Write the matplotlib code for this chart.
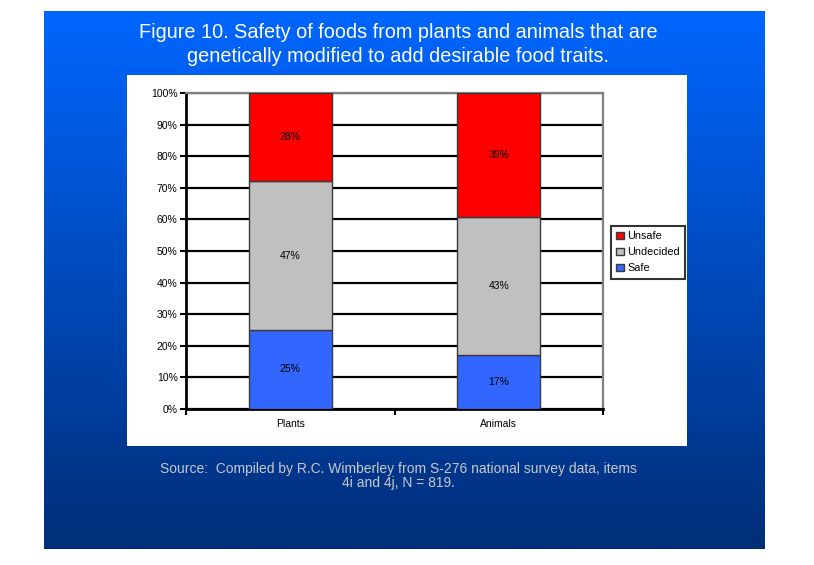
import matplotlib.pyplot as plt
import numpy as np
from matplotlib.patches import Rectangle

plt.rcParams['font.family'] = ['Liberation Sans', 'DejaVu Sans']

categories = ['Plants', 'Animals']
series = ['Safe', 'Undecided', 'Unsafe']
safe = [25, 17]
undecided = [47, 43]
unsafe = [28, 39]
colors = ['#3366ff', '#c0c0c0', '#ff0000']

W, H = 814, 565
fig = plt.figure(figsize=(W / 100, H / 100), dpi=100)
fig.patch.set_facecolor('white')

# blue gradient background panel
bg = fig.add_axes([44 / W, (H - 549) / H, 721 / W, 538 / H])
top = np.array([0x00, 0x66, 0xff]) / 255
bot = np.array([0x00, 0x2e, 0x78]) / 255
t = np.linspace(0, 1, 256)[:, None]
grad = top[None, :] * (1 - t) + bot[None, :] * t
bg.imshow(grad[:, None, :], aspect='auto', extent=[0, 1, 0, 1])
bg.set_axis_off()

# white chart area
fig.patches.append(Rectangle((127 / W, (H - 446) / H), 560 / W, 371 / H,
                             transform=fig.transFigure, facecolor='white',
                             edgecolor='none', zorder=1))

fig.text(398 / W, 1 - 33 / H, 'Figure 10. Safety of foods from plants and animals that are',
         ha='center', va='center', color='white', fontsize=14.3)
fig.text(398 / W, 1 - 57 / H, 'genetically modified to add desirable food traits.',
         ha='center', va='center', color='white', fontsize=14.3)

fig.text(398 / W, 1 - 469 / H, 'Source:  Compiled by R.C. Wimberley from S-276 national survey data, items',
         ha='center', va='center', color='#c8c8c8', fontsize=10)
fig.text(398 / W, 1 - 483 / H, '4i and 4j, N = 819.',
         ha='center', va='center', color='#c8c8c8', fontsize=10)

ax = fig.add_axes([186 / W, (H - 409) / H, 417 / W, 316 / H], zorder=2)
ax.set_facecolor('white')

data = np.array([safe, undecided, unsafe], dtype=float)
totals = data.sum(axis=0)
pct = data / totals * 100
x = np.arange(len(categories))
bottom = np.zeros(len(categories))
handles = []
for i, name in enumerate(series):
    b = ax.bar(x, pct[i], 0.4, bottom=bottom, color=colors[i],
               edgecolor='#3a3a3a', linewidth=1, zorder=3, label=name)
    handles.append(b)
    for j in range(len(categories)):
        ax.text(x[j], bottom[j] + pct[i][j] / 2, f'{int(data[i][j])}%',
                ha='center', va='center', fontsize=7.5, zorder=4)
    bottom += pct[i]

ax.set_xlim(-0.5, 1.5)
ax.set_ylim(0, 100)
ax.set_yticks(np.arange(0, 101, 10))
ax.set_yticklabels([f'{v}%' for v in range(0, 101, 10)], fontsize=7.5)
ax.yaxis.grid(True, color='black', linewidth=1.6, zorder=0)
ax.set_axisbelow(True)
ax.set_xticks(x)
ax.set_xticklabels(categories, fontsize=7.5)
ax.tick_params(axis='x', length=0, pad=7)
ax.set_xticks([-0.5, 0.5, 1.5], minor=True)
ax.tick_params(axis='x', which='minor', length=4, width=1.5, color='black')
ax.tick_params(axis='y', length=4, width=1.5, pad=2)
for s in ['left', 'bottom']:
    ax.spines[s].set_color('black')
    ax.spines[s].set_linewidth(2)
for s in ['top', 'right']:
    ax.spines[s].set_color('#808080')
    ax.spines[s].set_linewidth(1.6)

leg = ax.legend(handles[::-1], series[::-1], loc='upper left',
                bbox_to_anchor=(611 / W, 1 - 226 / H), bbox_transform=fig.transFigure,
                borderaxespad=0, fancybox=False, fontsize=7.8, handlelength=0.7,
                handleheight=0.7, handletextpad=0.3, labelspacing=0.55,
                borderpad=0.5)
leg.get_frame().set_edgecolor('black')
leg.get_frame().set_linewidth(1.5)

fig.savefig('out.png', dpi=100)
